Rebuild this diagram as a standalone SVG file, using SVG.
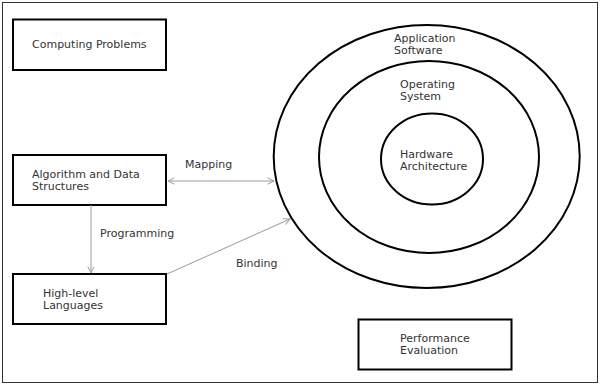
<svg xmlns="http://www.w3.org/2000/svg" width="600" height="385" viewBox="0 0 600 385">
<style>
.box{fill:#fff;stroke:#000;stroke-width:2}
.ring{fill:none;stroke:#000;stroke-width:2}
.t{font-family:"DejaVu Sans",Verdana,sans-serif;font-size:11px;fill:#333}
.c{fill:none;stroke:#999;stroke-width:1}
</style>
<defs>
<marker id="ah" viewBox="0 0 10 10" refX="9" refY="5" markerWidth="8" markerHeight="8" orient="auto-start-reverse" markerUnits="userSpaceOnUse">
<path d="M1,1 L9,5 L1,9" fill="none" stroke="#999" stroke-width="1.2"/>
</marker>
</defs>
<rect x="0" y="0" width="600" height="385" fill="#fff"/>
<rect x="2.5" y="2.5" width="595" height="380" fill="none" stroke="#333" stroke-width="1"/>
<g id="computing-problems">
<rect class="box" x="13" y="19.5" width="153" height="50.5"/>
<text class="t" x="32" y="48">Computing Problems</text>
</g>
<g id="algorithm">
<rect class="box" x="13" y="155" width="153" height="50"/>
<text class="t" x="32" y="178">Algorithm and Data</text>
<text class="t" x="32" y="190">Structures</text>
</g>
<g id="high-level">
<rect class="box" x="13" y="274" width="153" height="50"/>
<text class="t" x="43" y="297">High-level</text>
<text class="t" x="43" y="309">Languages</text>
</g>
<g id="layers">
<ellipse class="ring" cx="426.7" cy="156.5" rx="153" ry="131.5"/>
<ellipse class="ring" cx="429" cy="157" rx="110" ry="96"/>
<ellipse class="ring" cx="432" cy="159" rx="51" ry="45.5"/>
<text class="t" x="394" y="42">Application</text>
<text class="t" x="394" y="54">Software</text>
<text class="t" x="400" y="88">Operating</text>
<text class="t" x="400" y="100">System</text>
<text class="t" x="400" y="158">Hardware</text>
<text class="t" x="400" y="170">Architecture</text>
</g>
<g id="performance">
<rect class="box" x="358.5" y="319.5" width="153" height="50"/>
<text class="t" x="400" y="342">Performance</text>
<text class="t" x="400" y="354">Evaluation</text>
</g>
<g id="connectors">
<line class="c" x1="168" y1="181" x2="274" y2="181" marker-start="url(#ah)" marker-end="url(#ah)"/>
<line class="c" x1="91" y1="205" x2="91" y2="273" marker-end="url(#ah)"/>
<line class="c" x1="167" y1="274" x2="290" y2="219" marker-end="url(#ah)"/>
<text class="t" x="185" y="168">Mapping</text>
<text class="t" x="100" y="237">Programming</text>
<text class="t" x="236" y="267">Binding</text>
</g>
</svg>
